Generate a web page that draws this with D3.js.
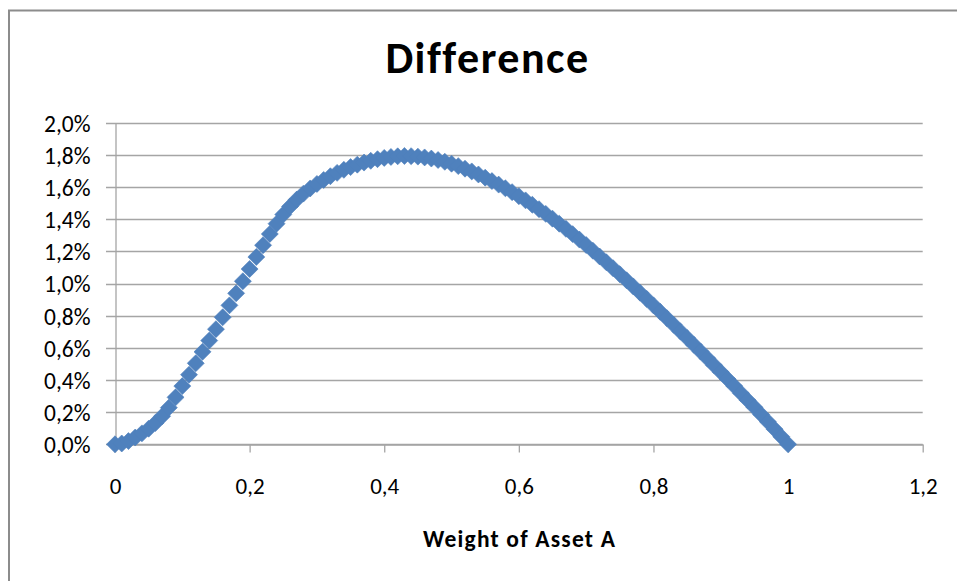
<!DOCTYPE html>
<html>
<head>
<meta charset="utf-8">
<script src="https://cdn.jsdelivr.net/npm/d3@7"></script>
<style>
  html, body { margin: 0; padding: 0; background: #ffffff; }
  svg { display: block; }
  text { font-family: Carlito, Calibri, Lato, sans-serif; fill: #000; }
</style>
</head>
<body>
<svg id="chart" width="957" height="581"></svg>
<script>
// ---- Data ----
const weights = [
  0.00,0.01,0.02,0.03,0.04,0.05,0.06,0.07,0.08,0.09,
  0.10,0.11,0.12,0.13,0.14,0.15,0.16,0.17,0.18,0.19,
  0.20,0.21,0.22,0.23,0.24,0.25,0.26,0.27,0.28,0.29,
  0.30,0.31,0.32,0.33,0.34,0.35,0.36,0.37,0.38,0.39,
  0.40,0.41,0.42,0.43,0.44,0.45,0.46,0.47,0.48,0.49,
  0.50,0.51,0.52,0.53,0.54,0.55,0.56,0.57,0.58,0.59,
  0.60,0.61,0.62,0.63,0.64,0.65,0.66,0.67,0.68,0.69,
  0.70,0.71,0.72,0.73,0.74,0.75,0.76,0.77,0.78,0.79,
  0.80,0.81,0.82,0.83,0.84,0.85,0.86,0.87,0.88,0.89,
  0.90,0.91,0.92,0.93,0.94,0.95,0.96,0.97,0.98,0.99,
  1.00
];
// difference in percent
const differencePct = [
  0.000,0.005,0.020,0.042,0.068,0.097,0.132,0.175,0.228,0.292,
  0.362,0.433,0.504,0.575,0.645,0.716,0.790,0.864,0.939,1.014,
  1.090,1.165,1.238,1.308,1.372,1.429,1.479,1.522,1.559,1.591,
  1.619,1.644,1.667,1.688,1.707,1.724,1.739,1.752,1.763,1.773,
  1.781,1.787,1.791,1.793,1.792,1.789,1.784,1.777,1.768,1.757,
  1.745,1.730,1.714,1.697,1.678,1.658,1.637,1.615,1.592,1.568,
  1.543,1.517,1.490,1.462,1.433,1.403,1.372,1.340,1.307,1.273,
  1.239,1.204,1.168,1.132,1.095,1.058,1.020,0.982,0.943,0.904,
  0.864,0.824,0.784,0.743,0.702,0.661,0.619,0.577,0.535,0.492,
  0.449,0.406,0.362,0.318,0.274,0.230,0.185,0.140,0.094,0.047,
  0.000
];
const xTicks = [0, 0.2, 0.4, 0.6, 0.8, 1.0, 1.2];
const xTickLabels = ["0", "0,2", "0,4", "0,6", "0,8", "1", "1,2"];
const yTicks = [0.000, 0.002, 0.004, 0.006, 0.008, 0.010, 0.012, 0.014, 0.016, 0.018, 0.020];
const yTickLabels = ["0,0%", "0,2%", "0,4%", "0,6%", "0,8%", "1,0%", "1,2%", "1,4%", "1,6%", "1,8%", "2,0%"];
const chartTitle = "Difference";
const xAxisTitle = "Weight of Asset A";

// ---- Layout ----
const svg = d3.select("#chart");
const plot = { left: 115, right: 922.7, top: 122.7, bottom: 444.3 };
const gridColor = "#a5a5a5";
const markerColor = "#4f81bd";

// chart border
svg.append("rect")
  .attr("x", 9).attr("y", 10.5)
  .attr("width", 1200).attr("height", 1200)
  .attr("fill", "none")
  .attr("stroke", "#8c8c8c")
  .attr("stroke-width", 2);

const x = d3.scaleLinear().domain([0, 1.2]).range([plot.left, plot.right]);
const y = d3.scaleLinear().domain([0, 0.02]).range([plot.bottom, plot.top]);

// gridlines (extend left as outer ticks)
svg.append("g").selectAll("line")
  .data(yTicks)
  .join("line")
  .attr("x1", plot.left - 9)
  .attr("x2", plot.right)
  .attr("y1", d => Math.round(y(d)) + 0.5)
  .attr("y2", d => Math.round(y(d)) + 0.5)
  .attr("stroke", gridColor)
  .attr("stroke-width", 1.3);

// y axis
const yAxis = d3.axisLeft(y)
  .tickValues(yTicks)
  .tickFormat((d, i) => yTickLabels[i])
  .tickSize(0)
  .tickPadding(25);
const gy = svg.append("g")
  .attr("transform", `translate(${plot.left + 0.5},0)`)
  .call(yAxis);
gy.select(".domain").attr("stroke", gridColor).attr("stroke-width", 1.3);
gy.selectAll("text")
  .attr("font-size", 23.5)
  .attr("dy", "0.36em")
  .attr("font-family", "Carlito, Calibri, Lato, sans-serif");

// x axis
const xAxis = d3.axisBottom(x)
  .tickValues(xTicks)
  .tickFormat((d, i) => xTickLabels[i])
  .tickSizeInner(8)
  .tickSizeOuter(0)
  .tickPadding(25);
const gx = svg.append("g")
  .attr("transform", `translate(0,${Math.round(plot.bottom) + 0.5})`)
  .call(xAxis);
gx.select(".domain").attr("stroke", gridColor).attr("stroke-width", 1.3);
gx.selectAll(".tick line").attr("stroke", gridColor).attr("stroke-width", 1.3);
gx.selectAll("text")
  .attr("font-size", 23)
  .attr("dy", "0")
  .attr("y", 49.5)
  .attr("font-family", "Carlito, Calibri, Lato, sans-serif");

// markers (rotated squares = Excel diamonds)
const data = weights.map((w, i) => ({ w: w, v: differencePct[i] / 100 }));
const diamond = d3.symbol().type(d3.symbolSquare).size(144);
svg.append("g").selectAll("path")
  .data(data)
  .join("path")
  .attr("d", diamond)
  .attr("transform", d => `translate(${x(d.w)},${y(d.v)}) rotate(45)`)
  .attr("fill", markerColor)
  .attr("stroke", markerColor)
  .attr("stroke-width", 0.6);

// title
svg.append("text")
  .attr("x", 487.5).attr("y", 73)
  .attr("text-anchor", "middle")
  .attr("font-weight", "bold")
  .attr("font-size", 44)
  .attr("letter-spacing", 1.5)
  .text(chartTitle);

// x axis title
svg.append("text")
  .attr("x", 519.5).attr("y", 547)
  .attr("text-anchor", "middle")
  .attr("font-weight", "bold")
  .attr("font-size", 23.5)
  .attr("letter-spacing", 1.2)
  .text(xAxisTitle);
</script>
</body>
</html>
